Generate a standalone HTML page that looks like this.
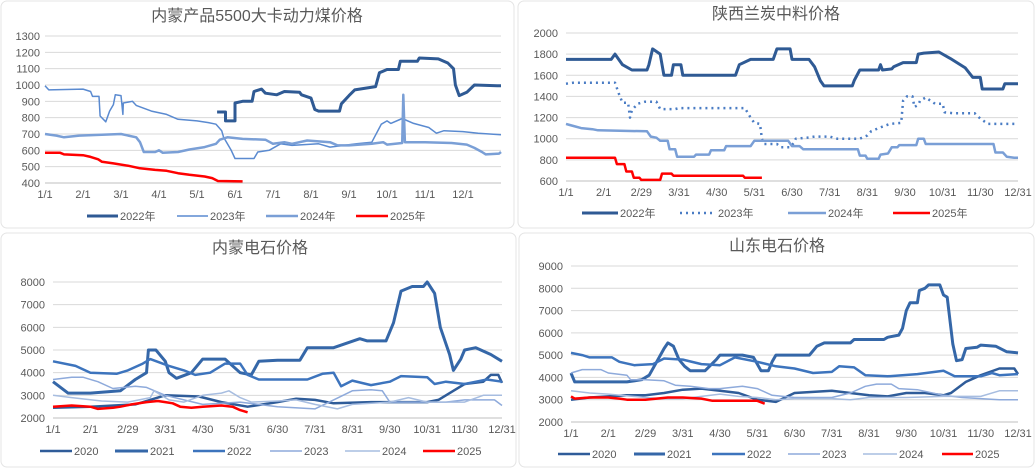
<!DOCTYPE html>
<html><head><meta charset="utf-8"><style>
html,body{margin:0;padding:0;background:#fff;width:1036px;height:469px;overflow:hidden}
svg{display:block}
text{font-family:"Liberation Sans","Noto Sans CJK SC",sans-serif}
</style></head><body>
<svg id="s" width="1036" height="469"></svg>
<script>
// ---- chart 1 data (x = months from 1/1) ----
const c1Ticks=[400,500,600,700,800,900,1000,1100,1200,1300];
const c1Cats=["1/1","2/1","3/1","4/1","5/1","6/1","7/1","8/1","9/1","10/1","11/1","12/1"];
const c1Years=["2022年","2023年","2024年","2025年"];
const c1_2022=[[4.53,835],[4.75,835],[4.75,780],[5.0,780],[5.0,890],[5.2,900],[5.45,900],[5.5,960],[5.7,975],[5.8,950],[6.1,940],[6.3,960],[6.7,955],[6.75,940],[7.0,920],[7.1,850],[7.2,840],[7.75,840],[7.8,885],[8.0,935],[8.15,970],[8.7,990],[8.8,1075],[9.0,1095],[9.3,1095],[9.35,1145],[9.8,1145],[9.85,1165],[10.35,1160],[10.6,1135],[10.75,1100],[10.8,1000],[10.9,935],[11.1,955],[11.3,1000],[11.9,995],[12,995]];
const c1_2023=[[0,995],[0.1,970],[1.0,975],[1.2,960],[1.25,930],[1.42,930],[1.45,810],[1.6,775],[1.7,840],[1.8,880],[1.85,940],[2.0,935],[2.05,820],[2.06,890],[2.3,900],[2.4,875],[2.8,840],[3.2,820],[3.5,790],[4.0,780],[4.3,770],[4.5,760],[4.65,720],[4.7,680],[4.9,600],[5.0,550],[5.5,550],[5.6,590],[5.9,600],[6.2,640],[6.5,630],[7.2,640],[7.5,620],[8.2,640],[8.6,650],[8.85,760],[9.0,780],[9.1,765],[9.4,795],[9.7,765],[10.1,740],[10.3,705],[10.5,720],[11.0,715],[11.4,705],[12,695]];
const c1_2024=[[0,700],[0.3,690],[0.5,680],[0.9,690],[2.0,700],[2.4,680],[2.5,650],[2.6,590],[2.9,590],[3.0,600],[3.1,585],[3.5,590],[3.8,605],[4.2,620],[4.5,640],[4.6,665],[4.8,680],[5.2,670],[5.8,665],[6.0,640],[6.3,650],[6.5,640],[6.9,660],[7.5,650],[7.7,630],[8.0,630],[8.6,640],[8.9,650],[9.0,635],[9.4,645],[9.43,940],[9.47,650],[10.0,650],[10.7,645],[11.1,635],[11.3,615],[11.5,590],[11.6,575],[11.95,580],[12,590]];
const c1_2025=[[0,585],[0.4,585],[0.5,575],[1.0,570],[1.2,560],[1.4,545],[1.5,530],[1.8,520],[2.2,505],[2.5,490],[2.9,480],[3.2,475],[3.5,460],[3.8,450],[4.2,440],[4.4,430],[4.55,412],[5.2,410]];
// ---- chart 2 data ----
const c2Ticks=[600,800,1000,1200,1400,1600,1800,2000];
const c2Cats=["1/1","2/1","2/29","3/31","4/30","5/31","6/30","7/31","8/31","9/30","10/31","11/30","12/31"];
const c2Years=["2022年","2023年","2024年","2025年"];
const c2_2022=[[0,1750],[1.2,1750],[1.3,1800],[1.4,1750],[1.5,1700],[1.75,1650],[2.15,1650],[2.2,1700],[2.3,1850],[2.5,1800],[2.6,1600],[2.8,1600],[2.85,1700],[3.05,1700],[3.1,1600],[4.5,1600],[4.6,1700],[4.9,1750],[5.5,1750],[5.6,1850],[5.95,1850],[6.0,1750],[6.45,1750],[6.6,1680],[6.75,1550],[6.85,1500],[7.6,1500],[7.65,1550],[7.8,1650],[8.3,1650],[8.35,1700],[8.4,1650],[8.65,1660],[8.7,1680],[8.95,1720],[9.3,1720],[9.35,1800],[9.5,1810],[9.9,1820],[10.2,1760],[10.6,1670],[10.8,1580],[11.0,1580],[11.05,1470],[11.6,1470],[11.65,1520],[12,1520]];
const c2_2023=[[0,1520],[0.2,1530],[1.3,1530],[1.4,1430],[1.5,1340],[1.65,1340],[1.7,1200],[1.75,1270],[1.9,1330],[2.1,1350],[2.4,1350],[2.5,1280],[2.9,1280],[3.0,1290],[4.75,1290],[4.9,1200],[5.0,1150],[5.15,1140],[5.2,1000],[5.25,950],[5.6,950],[5.7,920],[5.95,920],[6.05,960],[6.1,1000],[6.4,1010],[6.6,1020],[7.0,1020],[7.2,1000],[7.8,1000],[8.0,1030],[8.1,1070],[8.3,1100],[8.6,1140],[8.9,1150],[8.95,1360],[9.05,1400],[9.2,1400],[9.25,1300],[9.35,1320],[9.4,1360],[9.55,1390],[9.8,1330],[10.0,1330],[10.05,1250],[10.3,1240],[10.85,1240],[11.0,1190],[11.2,1140],[12,1140]];
const c2_2024=[[0,1140],[0.1,1130],[0.2,1120],[0.4,1100],[0.7,1090],[0.85,1080],[2.15,1070],[2.25,1020],[2.4,1010],[2.5,980],[2.7,980],[2.75,900],[2.9,900],[2.95,830],[3.4,830],[3.45,850],[3.8,850],[3.85,890],[4.2,890],[4.25,930],[4.9,930],[5.0,980],[5.9,980],[6.0,930],[6.2,930],[6.3,900],[7.75,900],[7.8,840],[7.95,840],[8.0,810],[8.3,810],[8.35,850],[8.55,860],[8.65,920],[8.8,920],[8.85,940],[9.3,940],[9.35,1000],[9.5,1000],[9.55,950],[11.35,950],[11.4,870],[11.6,870],[11.7,830],[11.9,820],[12,820]];
const c2_2025=[[0,820],[1.3,820],[1.35,760],[1.55,760],[1.6,690],[1.75,690],[1.8,630],[1.95,630],[2.0,610],[2.5,610],[2.55,670],[2.8,670],[2.85,650],[4.7,650],[4.75,630],[5.2,630]];
// ---- chart 3 data ----
const c3Ticks=[2000,3000,4000,5000,6000,7000,8000];
const c3Cats=c2Cats;
const c3Years=["2020","2021","2022","2023","2024","2025"];
const c3_2020=[[0,2450],[1.0,2500],[2.2,2600],[3.0,3000],[3.9,2950],[4.5,2700],[5.2,2500],[6.0,2700],[6.5,2850],[7.0,2800],[7.5,2650],[8.5,2700],[9.5,2700],[10.0,2700],[10.3,2800],[10.7,3200],[11.0,3500],[11.5,3600],[11.7,3900],[11.9,3900],[12,3550]];
const c3_2021=[[0,3600],[0.4,3100],[1.0,3100],[1.8,3200],[2.2,3700],[2.5,4000],[2.55,5000],[2.75,5000],[3.0,4500],[3.1,4000],[3.3,3750],[3.7,4000],[4.0,4600],[4.6,4600],[5.0,4000],[5.3,3900],[5.5,4500],[6.0,4550],[6.6,4550],[6.8,5100],[7.5,5100],[8.2,5500],[8.4,5400],[8.9,5400],[9.1,6200],[9.3,7600],[9.6,7800],[9.9,7800],[10.0,8000],[10.2,7500],[10.35,6000],[10.6,4800],[10.7,4100],[10.9,4600],[11.0,5000],[11.3,5100],[11.7,4800],[12,4500]];
const c3_2022=[[0,4500],[0.6,4300],[1.0,4000],[1.7,3950],[2.0,4100],[2.4,4400],[2.6,4600],[3.1,4300],[3.5,4100],[3.8,3900],[4.2,4000],[4.6,4400],[5.0,4400],[5.2,3900],[5.5,3700],[6.8,3700],[7.2,3950],[7.5,4000],[7.7,3400],[8.0,3650],[8.5,3450],[9.0,3600],[9.3,3850],[10.0,3800],[10.2,3500],[10.5,3600],[11.0,3500],[11.6,3700],[12,3600]];
const c3_2023=[[0,3700],[0.5,3800],[0.8,3800],[1.2,3600],[1.6,3300],[2.2,3400],[2.5,3350],[3.0,3000],[3.5,2800],[4.0,2600],[5.0,2700],[6.0,2500],[7.0,2400],[7.5,2800],[8.0,3200],[8.5,3250],[8.8,3200],[9.0,2700],[10.5,2700],[11.0,2800],[11.8,2800],[12,2550]];
const c3_2024=[[0,3000],[0.5,2900],[1.3,2750],[2.0,2700],[2.6,2900],[2.7,3200],[3.1,2800],[3.5,2700],[4.0,3000],[4.5,3100],[4.7,3200],[5.0,2900],[5.3,2700],[6.0,2750],[6.5,2800],[7.0,2600],[7.6,2400],[8.0,2600],[9.0,2700],[9.5,2900],[10.0,2700],[11.0,2700],[11.5,3000],[12,3000]];
const c3_2025=[[0,2500],[0.5,2550],[1.0,2500],[1.2,2400],[1.6,2450],[1.8,2500],[2.1,2600],[2.5,2700],[2.8,2750],[3.0,2700],[3.2,2650],[3.4,2500],[3.7,2450],[4.0,2500],[4.5,2550],[4.8,2500],[5.0,2350],[5.2,2250]];
// ---- chart 4 data ----
const c4Ticks=[2000,3000,4000,5000,6000,7000,8000,9000];
const c4Cats=c2Cats;
const c4Years=c3Years;
const c4_2020=[[0,3000],[0.5,3100],[1.5,3200],[2.0,3200],[2.5,3300],[3.0,3450],[3.5,3500],[4.0,3400],[4.5,3300],[5.0,3000],[5.5,2900],[6.0,3300],[6.5,3350],[7.0,3400],[8.0,3200],[8.5,3150],[9.0,3300],[9.5,3300],[10.0,3200],[10.2,3300],[10.6,3800],[11.0,4100],[11.5,4400],[11.9,4400],[12,4150]];
const c4_2021=[[0,4200],[0.1,3800],[1.5,3800],[1.9,3900],[2.1,4100],[2.3,4700],[2.5,5300],[2.6,5550],[2.75,5400],[2.9,4800],[3.05,4500],[3.2,4300],[3.6,4300],[3.9,4800],[4.0,5000],[4.6,5000],[4.9,4900],[5.1,4300],[5.3,4300],[5.4,4700],[5.5,5000],[6.4,5000],[6.6,5400],[6.8,5550],[7.5,5550],[7.6,5700],[8.4,5700],[8.5,5800],[8.8,5900],[8.9,6200],[9.0,7000],[9.1,7350],[9.3,7350],[9.35,7900],[9.5,8000],[9.6,8150],[9.9,8150],[10.0,7700],[10.1,7600],[10.25,5500],[10.35,4750],[10.5,4800],[10.6,5300],[10.9,5350],[11.0,5450],[11.4,5400],[11.7,5150],[12,5100]];
const c4_2022=[[0,5100],[0.3,5000],[0.5,4900],[1.1,4900],[1.3,4700],[1.7,4550],[2.2,4600],[2.5,4850],[3.0,4800],[3.5,4600],[4.0,4550],[4.4,4900],[5.0,4700],[5.5,4500],[6.0,4400],[6.5,4200],[7.0,4250],[7.2,4500],[7.6,4450],[7.9,4100],[8.5,4050],[9.3,4150],[10.0,4300],[10.3,4050],[11.0,4050],[11.3,4200],[11.5,4100],[12,4150]];
const c4_2023=[[0,4200],[0.3,4350],[0.8,4350],[1.0,4200],[1.5,4100],[1.6,3900],[2.0,3900],[2.5,3850],[2.8,3650],[3.2,3600],[3.7,3500],[4.0,3500],[4.6,3600],[5.0,3500],[5.4,3200],[6.0,3100],[7.0,3100],[7.5,3300],[7.9,3600],[8.2,3700],[8.6,3700],[8.8,3500],[9.3,3450],[10.0,3200],[10.5,3100],[11.5,3000],[12,3000]];
const c4_2024=[[0,3400],[0.5,3300],[1.0,3250],[2.0,3100],[2.5,3050],[3.0,3050],[3.5,3150],[4.0,3250],[4.5,3150],[5.0,3100],[5.5,3000],[6.0,3050],[7.0,3050],[7.5,3000],[8.0,3100],[9.0,3100],[10.0,3150],[11.0,3150],[11.5,3400],[12,3400]];
const c4_2025=[[0,3150],[0.1,3050],[0.5,3100],[1.0,3100],[1.3,3050],[1.5,3000],[2.0,3000],[2.3,3050],[2.6,3100],[3.0,3100],[3.5,3050],[3.8,2950],[5.0,2950],[5.2,2820]];

const NS="http://www.w3.org/2000/svg";
const svg=document.getElementById('s');
function mk(tag,attrs,parent){const e=document.createElementNS(NS,tag);for(const k in attrs)e.setAttribute(k,attrs[k]);(parent||svg).appendChild(e);return e;}
function slug(s){return s.replace(/年/,'');}

function chart(cfg){
  const g=mk('g',{});
  
  
  const fr=mk('rect',{x:cfg.box[0],y:cfg.box[1],width:cfg.box[2],height:cfg.box[3],rx:6,fill:'#fff',stroke:'#e4e4e4','stroke-width':1},g);
  
  
  const t=mk('text',{x:cfg.titleX,y:cfg.titleY,'text-anchor':'middle','font-size':16,fill:'#595959'},g);
  t.textContent=cfg.title;
  
  
  const y0=cfg.ticks[0],y1=cfg.ticks[cfg.ticks.length-1];
  const ys=v=>cfg.py1+(cfg.py0-cfg.py1)*(y1-v)/(y1-y0);
  const xs=m=>cfg.px0+(cfg.px1-cfg.px0)*m/12;
  cfg.ticks.forEach(v=>{
    const gl=mk('line',{x1:cfg.px0,x2:cfg.px1,y1:ys(v),y2:ys(v),stroke:'#d9d9d9','stroke-width':1},g);
    
    
    const tl=mk('text',{x:cfg.tickX,y:ys(v)+4,'text-anchor':'end','font-size':11,fill:'#595959'},g);
    tl.textContent=v;
    
    
  });
  const ax=mk('line',{x1:cfg.px0,x2:cfg.px1,y1:cfg.py0,y2:cfg.py0,stroke:'#bfbfbf','stroke-width':1},g);
  
  
  cfg.cats.forEach((c,i)=>{
    const xl=mk('text',{x:xs(i*cfg.catStep),y:cfg.py0+15,'text-anchor':'middle','font-size':11,fill:'#595959'},g);
    xl.textContent=c;
    
    
  });
  cfg.series.forEach((s,i)=>{
    const pts=s.data.map(p=>xs(p[0]).toFixed(1)+','+ys(p[1]).toFixed(1)).join(' ');
    const pl=mk('polyline',{points:pts,fill:'none',stroke:s.color,'stroke-width':s.w,'stroke-linejoin':'round','stroke-dasharray':s.dash||'none'},g);
    
    
    const lg=cfg.legend[i];
    const ll=mk('line',{x1:lg[0],x2:lg[1],y1:cfg.legY,y2:cfg.legY,stroke:s.color,'stroke-width':s.w,'stroke-dasharray':s.dash||'none'},g);
    
    
    const lt=mk('text',{x:lg[1]+2,y:cfg.legY+4,'font-size':11,fill:'#595959'},g);
    lt.textContent=s.label;
    
    
  });
}
const C20='#2f5c99',C21='#3567a8',C22='#3d74bd',C23='#8eaadb',C24='#a7bde0',RED='#ff0000';

chart({name:'chart-inner-mongolia-coal',box:[1,1,513,227],title:'内蒙产品5500大卡动力煤价格',titleX:257,titleY:21,
  ticks:c1Ticks,cats:c1Cats,catStep:1,px0:45,px1:501,py0:183,py1:36,tickX:40,legY:216,
  legend:[[87,118],[177,208],[266,298],[356,388]],
  series:[{label:c1Years[0],data:c1_2022,color:'#2f5a94',w:3},{label:c1Years[1],data:c1_2023,color:'#5a8ad0',w:1.5},{label:c1Years[2],data:c1_2024,color:'#7a9fd6',w:2.5},{label:c1Years[3],data:c1_2025,color:RED,w:2.5}]});

chart({name:'chart-shaanxi-coke',box:[518,1,516,227],title:'陕西兰炭中料价格',titleX:776,titleY:19,
  ticks:c2Ticks,cats:c2Cats,catStep:1,px0:566,px1:1018,py0:181,py1:33,tickX:558,legY:213,
  legend:[[582,618],[680,716],[788,826],[893,930]],
  series:[{label:c2Years[0],data:c2_2022,color:'#2f5a94',w:3},{label:c2Years[1],data:c2_2023,color:'#4a7cc4',w:2.5,dash:'2 4'},{label:c2Years[2],data:c2_2024,color:'#7a9fd6',w:2.5},{label:c2Years[3],data:c2_2025,color:RED,w:2.5}]});

chart({name:'chart-inner-mongolia-carbide',box:[1,233,515,234],title:'内蒙电石价格',titleX:260,titleY:253,
  ticks:c3Ticks,cats:c3Cats,catStep:1,px0:53,px1:502,py0:418,py1:282,tickX:45,legY:451,
  legend:[[40,72],[115,148],[193,225],[270,302],[345,380],[423,455]],
  series:[{label:c3Years[0],data:c3_2020,color:C20,w:2.5},{label:c3Years[1],data:c3_2021,color:C21,w:3},{label:c3Years[2],data:c3_2022,color:C22,w:2.5},{label:c3Years[3],data:c3_2023,color:C23,w:1.5},{label:c3Years[4],data:c3_2024,color:C24,w:1.5},{label:c3Years[5],data:c3_2025,color:RED,w:2.5}]});

chart({name:'chart-shandong-carbide',box:[519,233,515,234],title:'山东电石价格',titleX:777,titleY:251,
  ticks:c4Ticks,cats:c4Cats,catStep:1,px0:571,px1:1018,py0:422,py1:266,tickX:563,legY:454,
  legend:[[558,590],[634,665],[712,745],[788,820],[863,897],[942,973]],
  series:[{label:c4Years[0],data:c4_2020,color:C20,w:2.5},{label:c4Years[1],data:c4_2021,color:C21,w:3},{label:c4Years[2],data:c4_2022,color:C22,w:2.5},{label:c4Years[3],data:c4_2023,color:C23,w:1.5},{label:c4Years[4],data:c4_2024,color:C24,w:1.5},{label:c4Years[5],data:c4_2025,color:RED,w:2.5}]});
</script>
</body></html>
